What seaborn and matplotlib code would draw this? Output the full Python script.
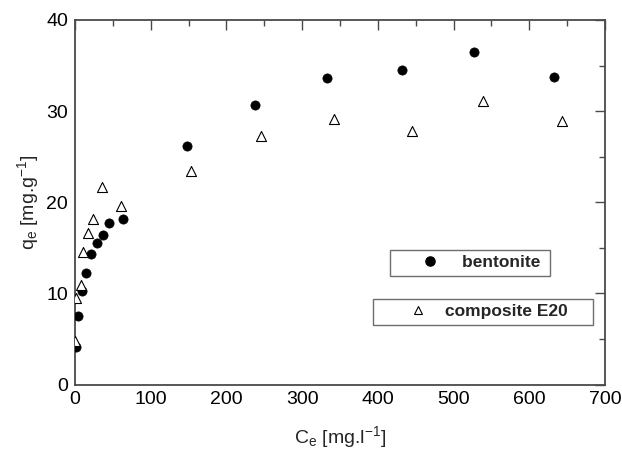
import matplotlib
matplotlib.use("Agg")
import matplotlib.pyplot as plt
import seaborn as sns
import pandas as pd
from matplotlib.ticker import MultipleLocator

# Equilibrium concentration Ce [mg/l] and sorbed amount qe [mg/g]
bentonite_ce = [0.9, 4.4, 8.8, 14.9, 21.0, 28.6, 36.5, 44.5, 63.4,
                147.5, 238.2, 332.4, 431.6, 527.0, 632.8]
bentonite_qe = [4.07, 7.54, 10.25, 12.26, 14.29, 15.56, 16.41, 17.76, 18.13,
                26.19, 30.69, 33.63, 34.46, 36.48, 33.77]

composite_ce = [0.0, 1.3, 7.9, 10.2, 17.2, 23.8, 36.1, 60.8,
                153.2, 245.7, 342.1, 444.8, 538.6, 643.3]
composite_qe = [4.79, 9.45, 10.9, 14.57, 16.59, 18.2, 21.7, 19.6,
                23.4, 27.3, 29.1, 27.8, 31.1, 28.9]

series_names = ["bentonite", "composite E20"]
x_ticks = [0, 100, 200, 300, 400, 500, 600, 700]
y_ticks = [0, 10, 20, 30, 40]

df_b = pd.DataFrame({"Ce": bentonite_ce, "qe": bentonite_qe})
df_c = pd.DataFrame({"Ce": composite_ce, "qe": composite_qe})

sns.set_theme(style="white")
plt.rcParams["font.family"] = ["Liberation Sans", "DejaVu Sans"]
plt.rcParams["mathtext.default"] = "regular"

axis_col = "#4a4a4a"

fig = plt.figure(figsize=(6.22, 4.53), dpi=100)
ax = fig.add_axes([75 / 622, 1 - 384.5 / 453, 530 / 622, 364.5 / 453])

sns.scatterplot(data=df_b, x="Ce", y="qe", ax=ax, marker="o", s=44,
                color="black", edgecolor="black", linewidth=0.5,
                legend=False, zorder=3)
sns.scatterplot(data=df_c, x="Ce", y="qe", ax=ax, marker="^", s=52,
                facecolor="white", edgecolor="black", linewidth=0.8,
                legend=False, zorder=3)

ax.set_xlim(0, 700)
ax.set_ylim(0, 40)
ax.set_xticks(x_ticks)
ax.set_yticks(y_ticks)
ax.xaxis.set_minor_locator(MultipleLocator(50))
ax.yaxis.set_minor_locator(MultipleLocator(5))

for s in ax.spines.values():
    s.set_visible(True)
    s.set_color(axis_col)
    s.set_linewidth(1.3)

ax.tick_params(which="both", direction="in", top=True, right=True,
               color=axis_col, width=1.0, labelsize=14, labelcolor="black")
ax.tick_params(which="major", length=7, pad=5)
ax.tick_params(which="minor", length=4)

ax.set_xlabel("C$_e$ [mg.l$^{-1}$]", fontsize=14, labelpad=11)
ax.set_ylabel("q$_e$ [mg.g$^{-1}$]", fontsize=14, labelpad=4)

# Two separate boxed legend entries
h_b = plt.Line2D([], [], linestyle="none", marker="o", markersize=6.6,
                 markerfacecolor="black", markeredgecolor="black")
h_c = plt.Line2D([], [], linestyle="none", marker="^", markersize=5.5,
                 markerfacecolor="white", markeredgecolor="black",
                 markeredgewidth=0.8)

common = dict(frameon=True, fancybox=False, shadow=False, borderaxespad=0,
              borderpad=0.3, loc="upper left", bbox_transform=fig.transFigure,
              prop={"weight": "bold", "size": 12.5})

leg1 = ax.legend([h_b], [series_names[0] + " "],
                 bbox_to_anchor=(390 / 622, 1 - 250 / 453),
                 handlelength=4.0, handletextpad=-0.18, **common)
leg1.get_frame().set_edgecolor(axis_col)
leg1.get_frame().set_linewidth(1.0)
ax.add_artist(leg1)

leg2 = ax.legend([h_c], [series_names[1] + "    "],
                 bbox_to_anchor=(373 / 622, 1 - 299 / 453),
                 handlelength=4.6, handletextpad=-0.75, **common)
leg2.get_frame().set_edgecolor(axis_col)
leg2.get_frame().set_linewidth(1.0)

fig.savefig("out.png", dpi=100)
